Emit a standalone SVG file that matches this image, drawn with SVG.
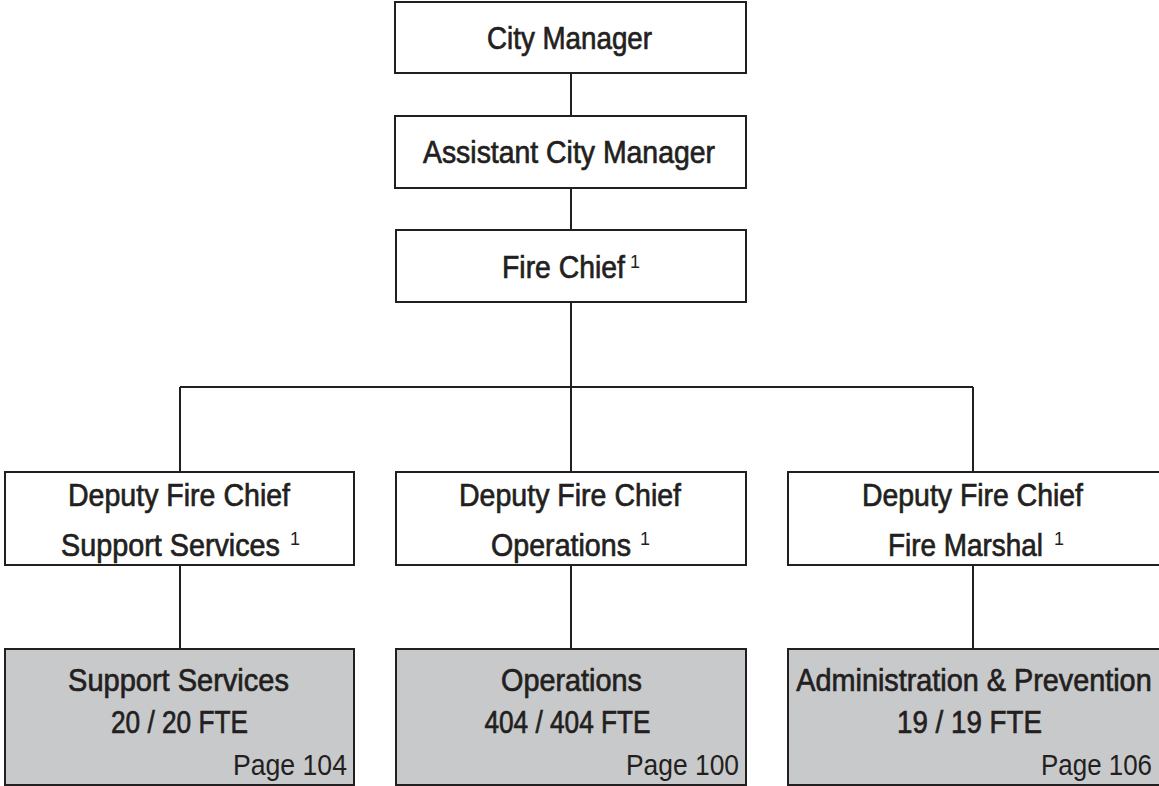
<svg xmlns="http://www.w3.org/2000/svg" width="1159" height="786" viewBox="0 0 1159 786">
<style>
.box{fill:#ffffff;stroke:#231f20;stroke-width:2}
.unit{fill:#c8c9cb;stroke:#231f20;stroke-width:2}
.ln{stroke:#231f20;stroke-width:2;fill:none}
text{font-family:"Liberation Sans",Arial,sans-serif;fill:#231f20}
.t{font-size:32px;stroke:#231f20;stroke-width:0.7;text-anchor:middle}
.s{font-size:18px}
.p{font-size:30px;text-anchor:end}
</style>
<rect width="1159" height="786" fill="#ffffff"/>
<g id="connectors">
<path class="ln" d="M571 73V116M571 188V230M571 302V472M180 387H973M180 387V472M973 387V472M180 565V649M571 565V649M973 565V649"/>
</g>
<g id="city-manager">
<rect class="box" x="395" y="2" width="351" height="71"/>
<text class="t" transform="translate(569.5,49) scale(0.867,1)">City Manager</text>
</g>
<g id="assistant-city-manager">
<rect class="box" x="395" y="116" width="351" height="72"/>
<text class="t" transform="translate(569,163) scale(0.888,1)">Assistant City Manager</text>
</g>
<g id="fire-chief">
<rect class="box" x="396" y="230" width="350" height="72"/>
<text class="t" transform="translate(563.5,278) scale(0.887,1)">Fire Chief</text>
<text class="s" x="630" y="268">1</text>
</g>
<g id="deputy-support">
<rect class="box" x="5" y="472" width="349" height="93"/>
<text class="t" transform="translate(179,506) scale(0.892,1)">Deputy Fire Chief</text>
<text class="t" transform="translate(170.5,556) scale(0.899,1)">Support Services</text>
<text class="s" x="290" y="545">1</text>
</g>
<g id="deputy-operations">
<rect class="box" x="396" y="472" width="350" height="93"/>
<text class="t" transform="translate(570,506) scale(0.892,1)">Deputy Fire Chief</text>
<text class="t" transform="translate(561,556) scale(0.894,1)">Operations</text>
<text class="s" x="640" y="545">1</text>
</g>
<g id="deputy-marshal">
<rect class="box" x="788" y="472" width="380" height="93"/>
<text class="t" transform="translate(972.5,506) scale(0.888,1)">Deputy Fire Chief</text>
<text class="t" transform="translate(965.5,556) scale(0.872,1)">Fire Marshal</text>
<text class="s" x="1054" y="545">1</text>
</g>
<g id="support-services">
<rect class="unit" x="5" y="649" width="349" height="136"/>
<text class="t" transform="translate(178.5,691) scale(0.907,1)">Support Services</text>
<text class="t" transform="translate(179.5,733) scale(0.82,1)">20 / 20 FTE</text>
<text class="p" transform="translate(347,775) scale(0.888,1)">Page 104</text>
</g>
<g id="operations">
<rect class="unit" x="396" y="649" width="350" height="136"/>
<text class="t" transform="translate(571.5,691) scale(0.901,1)">Operations</text>
<text class="t" transform="translate(567.5,733) scale(0.82,1)">404 / 404 FTE</text>
<text class="p" transform="translate(739,775) scale(0.88,1)">Page 100</text>
</g>
<g id="administration-prevention">
<rect class="unit" x="788" y="649" width="380" height="136"/>
<text class="t" transform="translate(974,691) scale(0.9,1)">Administration &amp; Prevention</text>
<text class="t" transform="translate(969.5,733) scale(0.867,1)">19 / 19 FTE</text>
<text class="p" transform="translate(1152,775) scale(0.864,1)">Page 106</text>
</g>
</svg>
